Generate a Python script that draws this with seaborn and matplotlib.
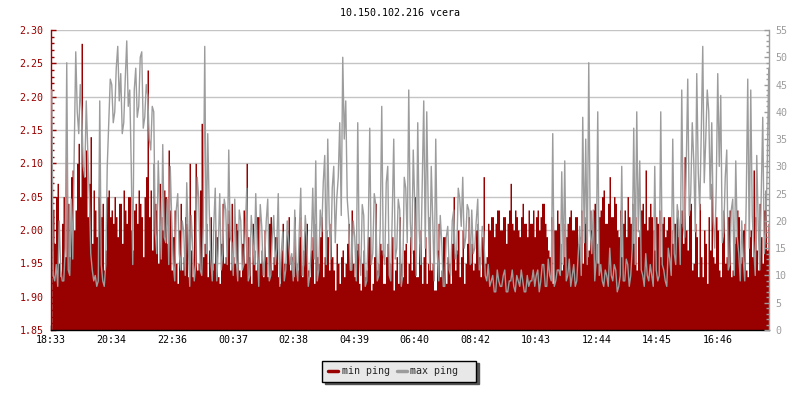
import numpy as np
import matplotlib
matplotlib.use("Agg")
import matplotlib.pyplot as plt
from matplotlib.ticker import MultipleLocator, FixedLocator
from matplotlib.lines import Line2D
import seaborn as sns

# ---------------- data (one sample every 3 minutes, from 18:33) ----------------
min_ping = [
    2.06, 2.03, 1.98, 2.05, 2.07, 1.95, 1.93, 2.01, 2.05, 1.96, 2.11, 2.04, 1.96, 2.08, 2.09, 2.00, 2.03, 2.10, 2.13, 2.05,
    2.28, 2.09, 2.08, 2.12, 2.02, 2.07, 2.14, 1.98, 2.06, 2.03, 1.99, 2.05, 2.07, 2.02, 2.04, 1.94, 1.97, 2.05, 2.06, 2.02,
    2.03, 2.01, 2.05, 2.02, 1.99, 2.04, 2.04, 1.98, 2.06, 2.03, 2.01, 2.05, 2.05, 2.00, 1.97, 2.03, 2.04, 2.01, 2.06, 2.04,
    2.02, 1.96, 2.05, 2.08, 2.24, 2.02, 2.06, 1.97, 2.10, 2.04, 2.03, 1.95, 2.07, 2.02, 2.00, 2.06, 2.05, 1.98, 2.12, 2.03,
    1.94, 1.99, 2.03, 1.95, 1.92, 2.00, 2.04, 1.94, 1.96, 2.02, 2.01, 1.93, 2.10, 1.97, 1.93, 2.03, 2.10, 1.94, 1.95, 2.06,
    2.16, 1.96, 1.98, 2.01, 1.93, 1.97, 2.02, 1.94, 1.95, 2.00, 1.99, 1.93, 1.92, 1.98, 2.04, 1.95, 1.96, 2.01, 2.03, 1.94,
    2.04, 1.96, 1.95, 2.01, 2.00, 1.94, 1.93, 1.98, 2.03, 1.95, 2.10, 1.99, 1.96, 1.92, 2.01, 1.97, 1.94, 2.02, 2.02, 1.95,
    1.97, 1.93, 2.00, 1.96, 1.93, 2.01, 2.02, 1.94, 1.96, 1.99, 1.99, 1.93, 1.92, 1.97, 2.01, 1.95, 1.95, 2.00, 2.02, 1.94,
    1.96, 1.93, 2.02, 1.95, 1.94, 1.99, 2.02, 1.93, 1.97, 2.00, 2.01, 1.94, 1.93, 1.97, 1.99, 1.92, 2.01, 1.96, 1.95, 1.99,
    2.02, 1.93, 1.96, 2.00, 1.99, 1.94, 2.01, 1.96, 1.94, 1.91, 1.98, 1.95, 1.92, 1.96, 1.97, 1.93, 1.95, 1.98, 2.01, 1.94,
    2.03, 1.95, 1.93, 1.97, 1.98, 1.92, 1.91, 1.95, 1.97, 1.93, 1.94, 1.99, 1.99, 1.91, 1.92, 1.96, 2.04, 1.94, 1.95, 1.98,
    1.97, 1.92, 1.92, 1.96, 1.98, 1.93, 1.95, 1.99, 1.91, 1.94, 1.96, 1.92, 2.02, 1.95, 1.93, 1.97, 1.98, 1.92, 1.95, 1.99,
    1.94, 1.97, 2.05, 1.93, 1.93, 1.98, 2.00, 1.92, 1.96, 1.99, 1.92, 1.95, 2.02, 1.94, 1.95, 1.91, 1.91, 1.97, 2.01, 1.93,
    1.94, 1.99, 1.99, 1.92, 1.96, 1.95, 1.92, 1.98, 2.05, 1.94, 1.97, 2.00, 1.93, 1.96, 2.00, 1.92, 1.95, 1.98, 2.02, 1.95,
    1.98, 1.94, 1.95, 2.00, 2.01, 1.96, 1.93, 1.99, 2.08, 1.95, 1.96, 2.01, 2.00, 2.02, 2.02, 1.99, 2.01, 2.03, 2.03, 2.00,
    2.00, 2.02, 2.02, 1.98, 2.01, 2.03, 2.07, 2.01, 2.00, 2.03, 2.02, 2.00, 1.99, 2.02, 2.04, 2.01, 2.01, 1.99, 2.03, 2.01,
    2.01, 2.03, 1.99, 2.02, 2.03, 2.00, 2.02, 2.04, 2.04, 2.01, 1.99, 1.97, 1.96, 2.02, 1.92, 2.00, 2.00, 2.03, 2.01, 1.98,
    1.94, 2.01, 1.96, 1.99, 2.01, 2.02, 2.03, 2.00, 2.00, 2.02, 2.02, 1.98, 1.99, 2.03, 1.95, 2.01, 2.02, 1.96, 1.97, 2.03,
    2.00, 2.03, 2.04, 1.98, 1.95, 2.02, 2.03, 2.05, 2.06, 2.01, 2.01, 2.04, 2.08, 2.02, 2.02, 2.05, 2.04, 2.00, 1.99, 2.03,
    1.96, 2.01, 2.03, 1.99, 2.05, 2.02, 2.01, 2.04, 1.98, 2.02, 1.94, 1.99, 2.00, 2.03, 2.04, 2.01, 2.09, 2.00, 2.02, 2.04,
    2.02, 2.00, 1.97, 2.02, 2.01, 2.03, 1.96, 2.01, 2.02, 1.99, 2.00, 2.02, 2.02, 2.00, 1.98, 2.01, 2.01, 2.03, 1.99, 2.01,
    2.03, 1.98, 2.11, 2.00, 1.97, 2.03, 2.04, 1.94, 1.95, 2.01, 1.99, 1.93, 2.04, 1.96, 1.93, 2.00, 1.98, 1.92, 2.02, 1.97,
    2.07, 1.96, 1.95, 2.02, 2.00, 1.94, 1.93, 1.99, 2.03, 1.95, 1.96, 2.02, 2.03, 1.93, 1.94, 1.98, 1.99, 2.03, 2.02, 1.95,
    1.96, 2.00, 2.01, 1.94, 1.93, 1.99, 2.00, 1.96, 2.09, 2.02, 1.97, 1.94, 2.04, 1.99, 1.95, 2.03, 2.06, 1.97, 2.01, 2.04,
]
max_ping = [
    44, 10, 9, 12, 8, 20, 11, 9, 9, 15, 49, 11, 10, 24, 13, 33, 51, 40, 36, 45,
    40, 30, 28, 42, 33, 25, 14, 11, 9, 10, 8, 9, 42, 12, 9, 8, 12, 30, 38, 46,
    45, 38, 40, 48, 52, 42, 47, 36, 38, 46, 53, 41, 44, 30, 12, 44, 48, 39, 41, 50,
    51, 37, 39, 45, 43, 35, 33, 41, 40, 18, 14, 31, 22, 13, 34, 17, 16, 24, 12, 30,
    20, 12, 9, 22, 25, 14, 11, 20, 18, 10, 27, 16, 8, 21, 15, 9, 12, 28, 24, 11,
    10, 19, 52, 14, 36, 22, 13, 9, 19, 26, 9, 15, 25, 11, 14, 24, 22, 12, 33, 17,
    16, 10, 24, 13, 9, 22, 20, 11, 12, 18, 26, 9, 10, 21, 17, 12, 25, 15, 8, 23,
    19, 10, 13, 20, 24, 9, 10, 17, 21, 12, 15, 25, 8, 14, 18, 9, 11, 20, 16, 12,
    14, 9, 22, 12, 9, 18, 26, 10, 12, 21, 17, 8, 10, 15, 26, 13, 31, 9, 11, 22,
    18, 27, 32, 12, 35, 20, 13, 26, 30, 16, 24, 28, 38, 21, 50, 35, 42, 24, 20, 11,
    11, 20, 17, 9, 38, 14, 10, 23, 21, 8, 9, 18, 37, 12, 14, 25, 23, 9, 10, 19,
    41, 14, 12, 27, 30, 10, 9, 21, 35, 13, 15, 24, 22, 8, 10, 28, 26, 16, 44, 20,
    14, 33, 23, 10, 38, 18, 12, 27, 42, 15, 40, 22, 11, 30, 20, 9, 35, 14, 9, 21,
    16, 8, 8, 17, 19, 11, 10, 20, 22, 13, 14, 26, 24, 19, 28, 15, 17, 23, 22, 12,
    22, 14, 15, 20, 24, 11, 12, 19, 18, 10, 9, 12, 8, 9, 10, 7, 7, 11, 9, 8,
    8, 10, 11, 7, 7, 9, 9, 11, 8, 7, 10, 9, 8, 11, 9, 7, 7, 10, 8, 9,
    9, 11, 8, 10, 11, 7, 9, 12, 12, 8, 8, 13, 10, 9, 36, 8, 9, 11, 11, 10,
    29, 12, 31, 9, 10, 13, 8, 10, 12, 8, 9, 14, 19, 10, 39, 16, 35, 12, 49, 18,
    14, 22, 9, 13, 40, 10, 12, 9, 8, 11, 10, 8, 15, 10, 9, 12, 11, 7, 8, 10,
    30, 9, 9, 13, 12, 8, 10, 15, 37, 12, 40, 18, 31, 11, 10, 8, 14, 10, 9, 12,
    10, 8, 30, 11, 9, 10, 40, 12, 11, 9, 8, 15, 13, 10, 35, 14, 12, 23, 20, 12,
    44, 19, 17, 30, 46, 21, 25, 38, 31, 18, 47, 29, 22, 36, 52, 27, 35, 44, 40, 24,
    38, 20, 15, 26, 47, 30, 43, 16, 18, 28, 33, 11, 12, 22, 24, 10, 31, 17, 14, 9,
    20, 13, 9, 24, 46, 15, 44, 21, 15, 10, 32, 19, 11, 25, 39, 14, 18, 30, 48, 24,
]
tick_minutes = [0, 121, 243, 364, 485, 606, 727, 849, 970, 1091, 1212, 1333]
tick_labels = ["18:33", "20:34", "22:36", "00:37", "02:38", "04:39",
               "06:40", "08:42", "10:43", "12:44", "14:45", "16:46"]
title = "10.150.102.216 vcera"
series_names = ["min ping", "max ping  "]

# ---------------- style ----------------
sns.set_style("white")
plt.rcParams["font.family"] = ["DejaVu Sans Mono", "DejaVu Sans"]
plt.rcParams["font.size"] = 7.2

RED = "#990000"
GREY = "#9c9c9c"
GRID = "#c4c4c4"

minutes = (np.arange(len(min_ping)) + 1) * 3 - 1.5

fig = plt.figure(figsize=(8, 4), dpi=100)
fig.patch.set_facecolor("white")
ax = fig.add_axes([51 / 800, 70 / 400, 718 / 800, 300 / 400])
ax2 = ax.twinx()

# red area (min ping) on the left axis
ax.fill_between(minutes, 1.85, min_ping, step="mid", color=RED, linewidth=0, zorder=2)
ax.set_ylim(1.85, 2.30)
ax.set_xlim(0, 1436)

# grey line (max ping) on the right axis
sns.lineplot(x=minutes, y=max_ping, ax=ax2, color=GREY, linewidth=1.0, legend=False)
ax2.set_ylim(0, 55)
ax2.set_xlim(0, 1436)

# grid below data
ax.set_axisbelow(True)
ax.yaxis.set_major_locator(MultipleLocator(0.05))
ax.yaxis.set_minor_locator(MultipleLocator(0.01))
ax.grid(axis="y", which="major", color=GRID, linewidth=1.0)
ax.grid(axis="x", visible=False)
ax.set_yticks(np.arange(1.85, 2.301, 0.05))
ax.set_yticklabels([f"{v:.2f}" for v in np.arange(1.85, 2.301, 0.05)])

ax.xaxis.set_major_locator(FixedLocator(tick_minutes))
ax.set_xticklabels(tick_labels)

ax2.yaxis.set_major_locator(MultipleLocator(5))
ax2.yaxis.set_minor_locator(MultipleLocator(1))
ax2.grid(False)
ax2.set_ylabel("")
ax.set_xlabel("")

# spines
ax.spines["top"].set_visible(False)
ax.spines["right"].set_visible(False)
ax.spines["left"].set_color(RED)
ax.spines["bottom"].set_color("black")
ax.spines["left"].set_linewidth(1.0)
ax.spines["bottom"].set_linewidth(1.0)
for s in ["top", "left", "bottom"]:
    ax2.spines[s].set_visible(False)
ax2.spines["right"].set_color(GREY)
ax2.spines["right"].set_linewidth(1.0)

# ticks
ax.tick_params(axis="y", which="major", direction="in", length=3.6, width=1,
               color=RED, labelcolor=RED, pad=5.5, labelsize=7.2, left=True)
ax.tick_params(axis="y", which="minor", direction="in", length=2.2, width=1,
               color=RED, left=True)
ax.tick_params(axis="x", which="major", direction="in", length=3.6, width=1,
               color="black", labelcolor="black", pad=3.5, labelsize=7.2, bottom=True)
ax2.tick_params(axis="y", which="major", direction="in", length=3.6, width=1,
                color=GREY, labelcolor=GREY, pad=4.5, labelsize=7.2, right=True)
ax2.tick_params(axis="y", which="minor", direction="in", length=2.2, width=1,
                color=GREY, right=True)

# title
fig.text(0.5, 1 - 13 / 400, title, ha="center", va="center", fontsize=7.2, color="black")

# legend
handles = [Line2D([0], [0], color=RED, linewidth=2.5),
           Line2D([0], [0], color=GREY, linewidth=2.5)]
leg = fig.legend(handles, series_names, loc="center", bbox_to_anchor=(399 / 800, 1 - 371 / 400),
                 ncol=2, frameon=True, fancybox=False, shadow={"color": "#555555", "alpha": 1},
                 fontsize=7.2, handlelength=1.0, handletextpad=0.4, columnspacing=0.7,
                 borderpad=0.55, borderaxespad=0)
leg.get_frame().set_facecolor("#e8e8e8")
leg.get_frame().set_edgecolor("black")
leg.get_frame().set_linewidth(1.0)
leg.get_frame().set_alpha(1)

fig.savefig("out.png", dpi=100, facecolor="white")
